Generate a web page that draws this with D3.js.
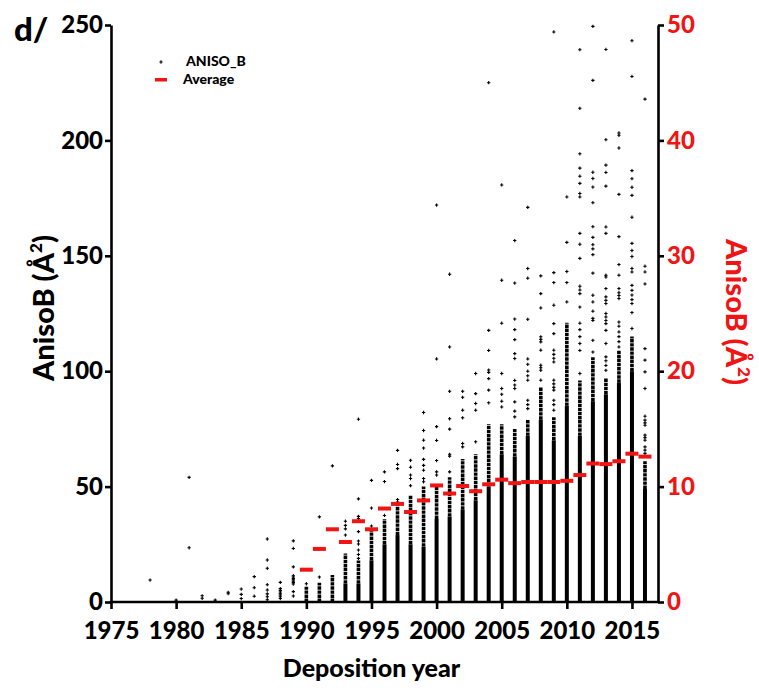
<!DOCTYPE html>
<html>
<head>
<meta charset="utf-8">
<script src="https://cdn.jsdelivr.net/npm/d3@7"></script>
<style>
  body { margin: 0; background: #fff; }
  text { font-family: Lato, "Open Sans", sans-serif; font-weight: 900; }
</style>
</head>
<body>
<div id="chart"></div>
<script>
(function() {
    // yearly averages (right axis, Å²)
    var avgYears = [1990, 1991, 1992, 1993, 1994, 1995, 1996, 1997, 1998, 1999,
        2000, 2001, 2002, 2003, 2004, 2005, 2006, 2007, 2008, 2009,
        2010, 2011, 2012, 2013, 2014, 2015, 2016];
    var avgValues = [2.8, 4.6, 6.3, 5.2, 7.0, 6.3, 8.1, 8.5, 7.8, 8.8,
        10.1, 9.4, 10.05, 9.6, 10.2, 10.6, 10.3, 10.4, 10.4, 10.4,
        10.5, 11.0, 12.0, 11.95, 12.2, 12.85, 12.6];

    // dense part of each year's column (left axis): solid bar and stacked points
    var columnYears = avgYears;
    var solidTop = [0, 0, 0, 8, 8, 18, 25, 29, 25, 24,
        36, 37, 40, 44, 50, 64, 63, 72, 79, 70,
        85, 72, 87, 90, 95, 100, 49];
    var stackTop = [6.6, 8.3, 11.7, 21, 18, 31, 36, 42, 46, 50,
        51, 54, 62, 64, 77, 77, 75, 79, 93, 80,
        121, 96, 106, 97, 109, 115, 61];

    // single points read above the dense part
    var outliers = [
        [1978, [9.5]],
        [1980, [0.8]],
        [1981, [54, 23.5]],
        [1982, [2.7, 1.6]],
        [1983, [0.8]],
        [1984, [4.2, 3.6]],
        [1985, [5.6, 3.3, 1.5]],
        [1986, [11, 6.2, 2.5]],
        [1987, [27.3, 18.2, 14.6, 7.5, 5.2, 3.5, 2.3, 1]],
        [1988, [8.5, 5.8, 5, 4.3, 3.6, 3, 2.3, 1.5]],
        [1989, [26.5, 23.2, 15.2, 11.4, 10.8, 10.2, 9.6, 9, 8.4, 7.8, 4.5, 2.6]],
        [1990, [7.9]],
        [1991, [36.9, 10.8]],
        [1992, [59]],
        [1993, [35, 33.2, 31.7, 29]],
        [1994, [79.2, 44.7, 37.1, 36.2, 30.5, 26.4, 25.1, 22.5, 20.6, 18.9]],
        [1995, [52.7, 40.7, 32.9]],
        [1996, [56.4, 52.2, 37.5]],
        [1997, [65.7, 59.6, 57.8, 44.4, 43.3]],
        [1998, [61.4, 58.4, 55, 53.5, 50.4]],
        [1999, [82.1, 74.3, 70.1, 66.7, 61.8, 59.2, 57.1, 53.5, 52.1]],
        [2000, [172, 105.3, 76, 70, 61.3, 56.4, 55]],
        [2001, [142, 110.5, 91.3, 79.4, 74.9, 64, 63.2, 56.4]],
        [2002, [91.3, 88.7, 83.1, 79.8, 68.7, 67.2]],
        [2003, [99, 90.3, 86, 83.1, 69.4]],
        [2004, [225, 117.7, 109, 100.5, 99.5, 96.8, 91.8, 86.3]],
        [2005, [180.7, 139.4, 120.8, 99, 92.5, 90, 87, 84.5]],
        [2006, [156.6, 138.2, 122.6, 118, 113.7, 107.6, 105.5, 96, 94, 92.5, 86.7, 82.7, 80.2]],
        [2007, [171, 144.5, 140.3, 122.5, 105.3, 103, 100, 98, 96.1, 87.4, 85.5, 83.8]],
        [2008, [141.3, 133.6, 127.4, 114.9, 113.8, 112.7, 109.1, 102.6, 101.5, 100.4, 96.1]],
        [2009, [247, 142.7, 138.4, 128.6, 120.6, 116.3, 109.1, 107.3, 105.6, 104, 96.1, 94.5, 93, 91.8, 87.4, 85.5, 83.1]],
        [2010, [175.5, 155.8, 143.2, 138.4, 130]],
        [2011, [239.3, 213.9, 194.2, 188, 184.5, 181.4, 177, 175.5, 159.7, 155, 148.9, 136.8, 135.2, 133.6, 127.8, 120.8, 118, 115, 112, 109, 99]],
        [2012, [249.4, 226, 186.2, 183.5, 179.8, 173, 162.6, 158, 154.8, 153, 150.5, 142.5, 132.9, 130, 126, 122.9, 122, 113.4, 108.3]],
        [2013, [239.4, 200.3, 189.3, 186.1, 180.2, 162.5, 159.7, 141.6, 140.8, 135.8, 132.2, 130.7, 129.3, 125, 123.5, 122, 120.6, 117.7, 112, 106.2, 104.5, 102.5, 100.4]],
        [2014, [203.2, 202.2, 196.7, 176.6, 158.3, 146.2, 141.6, 135.8, 134, 132.8, 131.5, 121.3, 119.5, 117, 115, 112.8, 110.5]],
        [2015, [243.2, 227.7, 186.9, 183.4, 179.7, 176.2, 166.7, 155.4, 152.3, 149.7, 144.5, 143, 137.2, 135, 133, 131, 129.3, 125.4, 118.5]],
        [2016, [217.9, 145.5, 143, 137.8, 109.8, 104.8, 99.7, 92.5, 80.5, 78.8, 77.6, 76.6, 72.3, 71.2, 70.1, 67.2, 65.8, 64.4]]
    ];

    var xTicks = [1975, 1980, 1985, 1990, 1995, 2000, 2005, 2010, 2015];
    var leftTicks = [0, 50, 100, 150, 200, 250];
    var rightTicks = [0, 10, 20, 30, 40, 50];

    var width = 759, height = 691;
    var left = 111, right = 658, top = 25, bottom = 602;
    var red = "#f01414";
    var font = "Lato, 'Open Sans', sans-serif";

    var x = d3.scaleLinear().domain([1975, 2017]).range([left, right]);
    var yL = d3.scaleLinear().domain([0, 250]).range([bottom, top]);
    var yR = d3.scaleLinear().domain([0, 50]).range([bottom, top]);

    var svg = d3.select("#chart").append("svg")
        .attr("width", width)
        .attr("height", height);

    // columns
    var cols = columnYears.map(function(yr, i) {
        return { year: yr, solid: solidTop[i], stack: stackTop[i] };
    });

    svg.append("g").selectAll("line")
        .data(cols).enter()
        .append("line")
        .attr("x1", function(d) { return x(d.year); })
        .attr("x2", function(d) { return x(d.year); })
        .attr("y1", function(d) { return yL(d.solid); })
        .attr("y2", function(d) { return yL(d.stack); })
        .attr("stroke", "#000")
        .attr("stroke-width", 3.6)
        .attr("stroke-dasharray", "3.4,0.7");

    svg.append("g").selectAll("rect")
        .data(cols.filter(function(d) { return d.solid > 0; })).enter()
        .append("rect")
        .attr("x", function(d) { return x(d.year) - 2; })
        .attr("width", 4)
        .attr("y", function(d) { return yL(d.solid); })
        .attr("height", function(d) { return yL(0) - yL(d.solid); })
        .attr("fill", "#000");

    // scattered points
    var pts = [];
    outliers.forEach(function(o) {
        o[1].forEach(function(v) { pts.push({ year: o[0], value: v }); });
    });
    var cross = d3.symbol().type(d3.symbolCross).size(6);
    svg.append("g").selectAll("path")
        .data(pts).enter()
        .append("path")
        .attr("d", cross)
        .attr("transform", function(d) {
            return "translate(" + x(d.year) + "," + yL(d.value) + ")";
        })
        .attr("fill", "#000");

    // averages
    svg.append("g").selectAll("rect")
        .data(avgYears).enter()
        .append("rect")
        .attr("x", function(d) { return x(d) - 6.5; })
        .attr("width", 13)
        .attr("y", function(d, i) { return yR(avgValues[i]) - 2; })
        .attr("height", 4)
        .attr("fill", red);

    // axes
    var xAxis = svg.append("g")
        .attr("transform", "translate(0," + bottom + ")")
        .call(d3.axisBottom(x).tickValues(xTicks).tickFormat(d3.format("d")).tickSize(7).tickSizeOuter(0));
    xAxis.selectAll("text").attr("y", 20).attr("dy", "0.72em").attr("fill", "#000");

    var lAxis = svg.append("g")
        .attr("transform", "translate(" + left + ",0)")
        .call(d3.axisLeft(yL).tickValues(leftTicks).tickSize(6).tickSizeOuter(0));
    lAxis.selectAll("text").attr("x", -8).attr("fill", "#000");

    var rAxis = svg.append("g")
        .attr("transform", "translate(" + right + ",0)")
        .call(d3.axisRight(yR).tickValues(rightTicks).tickSize(6).tickSizeOuter(0));
    rAxis.selectAll("text").attr("x", 9).attr("fill", red);

    svg.selectAll(".domain").attr("stroke-width", 2.6).attr("stroke", "#000");
    svg.selectAll(".tick line").attr("stroke-width", 2.6).attr("stroke", "#000");
    svg.selectAll(".tick text")
        .attr("font-size", 24)
        .attr("font-family", font)
        .attr("font-weight", 900);
    // x axis runs the full width between the two y axes
    xAxis.select(".domain").attr("d", "M" + (left - 1.3) + ",0H" + (right + 1.3));

    // titles
    svg.append("text")
        .attr("x", x(1995))
        .attr("y", 677)
        .attr("text-anchor", "middle")
        .attr("font-size", 25)
        .text("Deposition year");

    var lt = svg.append("text")
        .attr("transform", "translate(54,308) rotate(-90)")
        .attr("text-anchor", "middle")
        .attr("font-size", 29)
        .attr("fill", "#000");
    lt.append("tspan").text("AnisoB (Å");
    lt.append("tspan").attr("font-size", 17).attr("dy", -12).text("2");
    lt.append("tspan").attr("dy", 12).text(")");

    var rt = svg.append("text")
        .attr("transform", "translate(726,312) rotate(90)")
        .attr("text-anchor", "middle")
        .attr("font-size", 29)
        .attr("fill", red);
    rt.append("tspan").text("AnisoB (Å");
    rt.append("tspan").attr("font-size", 17).attr("dy", -12).text("2");
    rt.append("tspan").attr("dy", 12).text(")");

    svg.append("text")
        .attr("x", 14)
        .attr("y", 41)
        .attr("font-size", 33)
        .text("d/");

    // legend
    var legend = svg.append("g");
    legend.append("path")
        .attr("d", cross)
        .attr("transform", "translate(161,62)");
    legend.append("text")
        .attr("x", 186)
        .attr("y", 66)
        .attr("font-size", 14)
        .text("ANISO_B");
    legend.append("rect")
        .attr("x", 155)
        .attr("y", 78)
        .attr("width", 12)
        .attr("height", 3.5)
        .attr("fill", red);
    legend.append("text")
        .attr("x", 183)
        .attr("y", 84)
        .attr("font-size", 14)
        .text("Average");
})();
</script>
</body>
</html>
